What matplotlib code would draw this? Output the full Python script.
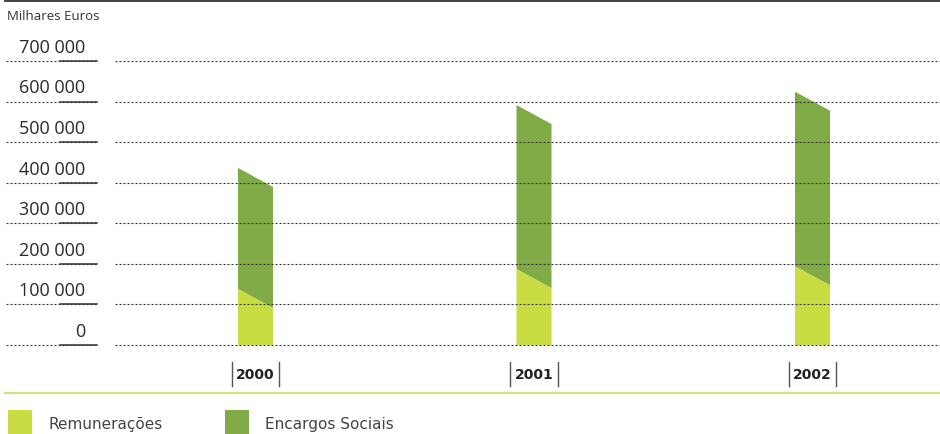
import numpy as np
import matplotlib.pyplot as plt
from matplotlib.transforms import blended_transform_factory

anos = ['2000', '2001', '2002']
remuneracoes = [115000, 164000, 171000]
encargos = [298000, 404000, 430000]
ticks = [0, 100000, 200000, 300000, 400000, 500000, 600000, 700000]

verde_claro = '#c9dc42'
verde_escuro = '#80ab46'

fig = plt.figure(figsize=[9.4, 4.34], dpi=100)
W, H = 940.0, 434.0

def fx(px):
    return px / W

def fy(py):
    return 1 - py / H

# axes: y 0..700000 between pixel rows 345 and 61, bars 278.5 px apart
ax = fig.add_axes([0, fy(345), 1, fy(61) - fy(345)])
ax.set_ylim(0, 700000)
ax.set_xlim(-255.5 / 278.5, (W - 255.5) / 278.5)
ax.axis('off')

x = np.arange(len(anos))
larg = 35 / 278.5
incl = 23500  # half of the slanted drop across a bar

for i in x:
    l, r = i - larg / 2, i + larg / 2
    rem = remuneracoes[i]
    tot = rem + encargos[i]
    ax.fill([l, r, r, l], [0, 0, rem - incl, rem + incl],
            color=verde_claro, lw=0, zorder=2)
    ax.fill([l, r, r, l], [rem + incl, rem - incl, tot - incl, tot + incl],
            color=verde_escuro, lw=0, zorder=2)

# dotted grid, left stub and main line, with solid underline under labels
tr = blended_transform_factory(ax.transAxes, ax.transData)
for t in ticks:
    ax.plot([fx(6), fx(97)], [t, t], transform=tr, color='#333333',
            lw=0.8, ls=(0, (1.8, 1.8)), zorder=3, clip_on=False)
    ax.plot([fx(115), 1], [t, t], transform=tr, color='#333333',
            lw=0.8, ls=(0, (1.8, 1.8)), zorder=3, clip_on=False)
    ax.plot([fx(60), fx(97)], [t, t], transform=tr, color='#333333',
            lw=1.1, zorder=3, clip_on=False)
    lab = '{:,}'.format(t).replace(',', ' ')
    ax.annotate(lab, xy=(fx(85), t), xycoords=tr, xytext=(0, 3),
                textcoords='offset points', ha='right', va='bottom',
                fontsize=13, family='Open Sans', color='#2a2a2a')

# year labels between small vertical bars
for i, a in enumerate(anos):
    cx = 255.5 + 278.5 * i
    fig.text(fx(cx), fy(375), a, ha='center', va='center', fontsize=10,
             fontweight='bold', family='DejaVu Sans', color='#222222')
    for dx in (-23.5, 23.5):
        fig.add_artist(plt.Line2D([fx(cx + dx)] * 2, [fy(362), fy(386)],
                                  color='#555555', lw=1))

fig.text(fx(7), fy(17), 'Milhares Euros', ha='left', va='center',
         fontsize=9.5, family='Open Sans', color='#333333')

fig.add_artist(plt.Line2D([fx(5), 1], [fy(1), fy(1)], color='#333333', lw=1.3))
fig.add_artist(plt.Line2D([fx(5), 1], [fy(392.5), fy(392.5)],
                          color='#d2e27c', lw=1.6))

# legend
for x0, cor, txt in [(8, verde_claro, 'Remunerações'),
                     (225, verde_escuro, 'Encargos Sociais')]:
    fig.add_artist(plt.Rectangle((fx(x0), fy(436)), fx(24), fy(410) - fy(436),
                                 color=cor, lw=0))
    fig.text(fx(x0 + 40), fy(425), txt, ha='left', va='center',
             fontsize=11, family='DejaVu Sans', color='#444444')

plt.savefig('out.png', dpi=100)
plt.close()
